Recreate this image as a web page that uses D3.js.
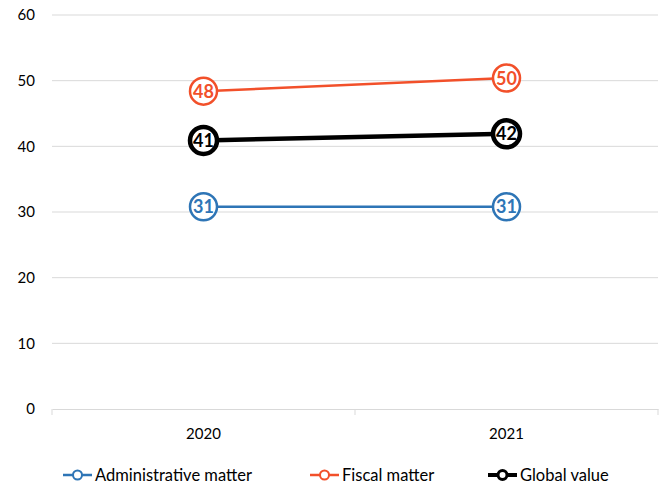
<!DOCTYPE html>
<html>
<head>
<meta charset="utf-8">
<script src="https://cdn.jsdelivr.net/npm/d3@7"></script>
<style>
  body { margin: 0; background: #fff; }
  text { font-family: Lato, "Open Sans", sans-serif; }
</style>
</head>
<body>
<div id="chart"></div>
<script>
// data
var years = ["2020", "2021"];
var adminValues = [30.8, 30.8];
var fiscalValues = [48.4, 50.4];
var globalValues = [40.9, 41.9];
var adminLabels = ["31", "31"];
var fiscalLabels = ["48", "50"];
var globalLabels = ["41", "42"];
var yTicks = [0, 10, 20, 30, 40, 50, 60];

var width = 661, height = 486;

var series = [
  { name: "Administrative matter", values: adminValues, labels: adminLabels, color: "#2e75b6", lw: 2.5, cw: 2.5 },
  { name: "Fiscal matter", values: fiscalValues, labels: fiscalLabels, color: "#f2502a", lw: 2.5, cw: 2.5 },
  { name: "Global value", values: globalValues, labels: globalLabels, color: "#000000", lw: 4.5, cw: 4.5 }
];

var svg = d3.select("#chart").append("svg")
    .attr("width", width)
    .attr("height", height);

var x = d3.scaleBand().domain(years).range([52, 658]);
var y = d3.scaleLinear().domain([0, 60]).range([409, 15]);

// gridlines
svg.selectAll("line.grid")
    .data(yTicks.slice(1))
    .enter().append("line")
    .attr("x1", 52).attr("x2", 658)
    .attr("y1", function (d) { return y(d); })
    .attr("y2", function (d) { return y(d); })
    .style("stroke", "#d9d9d9")
    .style("stroke-width", 1);

// x axis
var xAxis = svg.append("g")
    .attr("transform", "translate(0," + y(0) + ")")
    .call(d3.axisBottom(x).tickSizeOuter(0).tickSizeInner(0).tickPadding(19));
xAxis.select(".domain").style("stroke", "#d9d9d9");
xAxis.selectAll("text").style("font-size", "15px").style("fill", "#000")
    .style("font-family", "Lato, sans-serif");

// category separators
svg.selectAll("line.sep")
    .data([52, 52 + x.bandwidth(), 658])
    .enter().append("line")
    .attr("x1", function (d) { return d; }).attr("x2", function (d) { return d; })
    .attr("y1", y(0)).attr("y2", y(0) + 6)
    .style("stroke", "#d9d9d9");

// y axis labels
var yAxis = svg.append("g")
    .attr("transform", "translate(52,0)")
    .call(d3.axisLeft(y).tickValues(yTicks).tickSize(0).tickPadding(17));
yAxis.select(".domain").remove();
yAxis.selectAll("text").style("font-size", "15px").style("fill", "#000")
    .style("font-family", "Lato, sans-serif");

function cx(i) { return x(years[i]) + x.bandwidth() / 2; }

var line = d3.line()
    .x(function (d, i) { return cx(i); })
    .y(function (d) { return y(d); });

series.forEach(function (s) {
  svg.append("path")
      .datum(s.values)
      .attr("d", line)
      .style("fill", "none")
      .style("stroke", s.color)
      .style("stroke-width", s.lw);

  var g = svg.selectAll(null)
      .data(s.values)
      .enter().append("g")
      .attr("transform", function (d, i) { return "translate(" + cx(i) + "," + y(d) + ")"; });

  g.append("circle")
      .attr("r", 13.5)
      .style("fill", "#fff")
      .style("stroke", s.color)
      .style("stroke-width", s.cw);

  g.append("text")
      .text(function (d, i) { return s.labels[i]; })
      .attr("text-anchor", "middle")
      .attr("dy", "0.36em")
      .style("font-size", "18px")
      .style("font-weight", "bold")
      .style("fill", s.color);
});

// legend
var legendX = [63, 310, 488];
series.forEach(function (s, i) {
  var lg = svg.append("g").attr("transform", "translate(" + legendX[i] + ",475)");
  lg.append("line")
      .attr("x1", 0).attr("x2", 29)
      .style("stroke", s.color)
      .style("stroke-width", i == 2 ? 4 : 2.5);
  lg.append("circle")
      .attr("cx", 14.5).attr("r", 4.5)
      .style("fill", "#fff")
      .style("stroke", s.color)
      .style("stroke-width", i == 2 ? 3 : 2);
  lg.append("text")
      .attr("x", 32).attr("dy", "0.35em")
      .text(s.name)
      .style("font-size", "16.5px")
      .style("fill", "#000");
});
</script>
</body>
</html>
